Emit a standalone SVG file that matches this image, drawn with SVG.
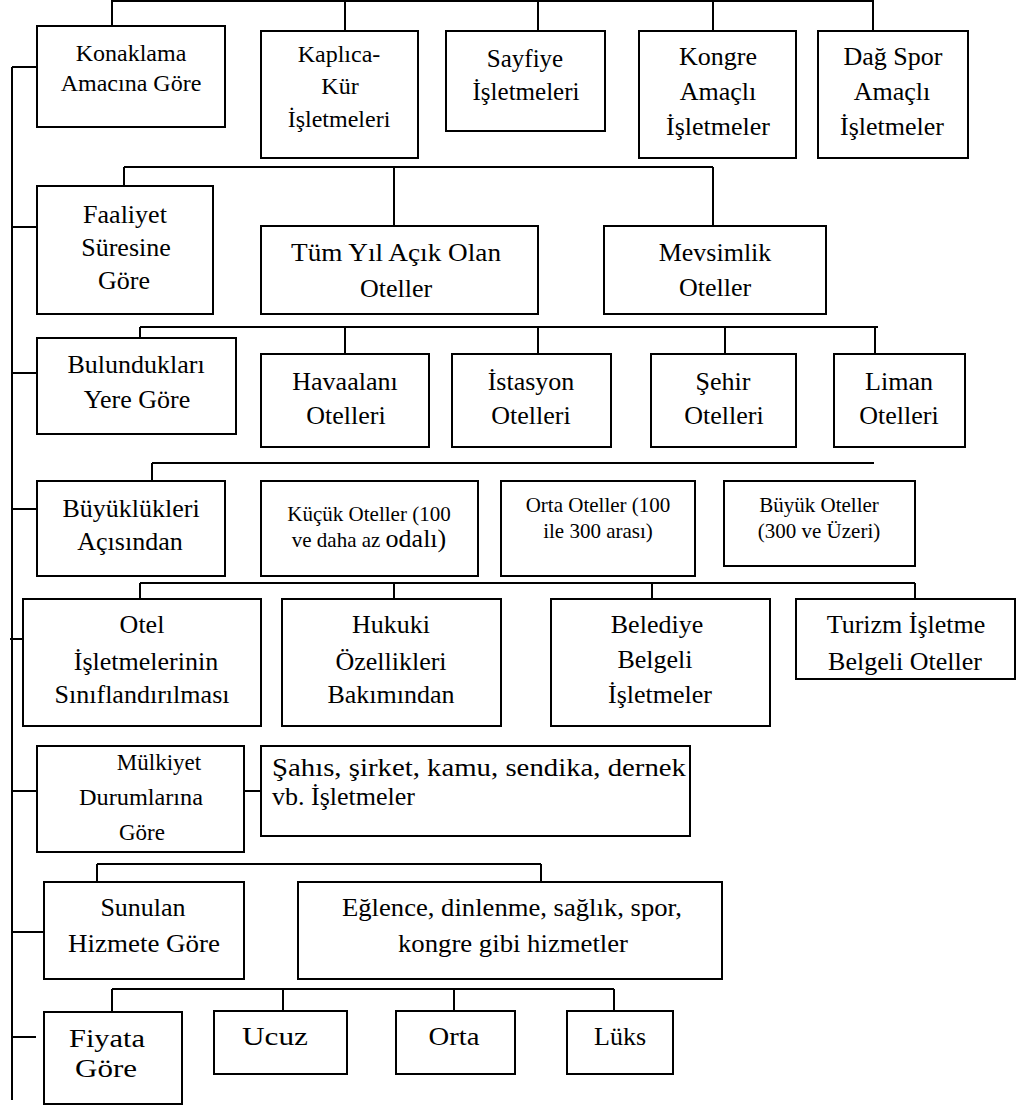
<svg xmlns="http://www.w3.org/2000/svg" width="1019" height="1106" viewBox="0 0 1019 1106">
<style>
.b{fill:#fff;stroke:#000;stroke-width:2}
.c line{stroke:#000;stroke-width:2}
text{font-family:"Liberation Serif","Times New Roman",serif;font-size:26px;fill:#000;text-anchor:middle}
.f24{font-size:24px}
.f25{font-size:25px}
.f23{font-size:23px}
.f21{font-size:21px}
.l{text-anchor:start}
</style>
<rect width="1019" height="1106" fill="#fff"/>
<g class="c" id="connectors">
<line x1="112" y1="1" x2="873" y2="1"/>
<line x1="112" y1="0" x2="112" y2="35"/>
<line x1="345" y1="0" x2="345" y2="35"/>
<line x1="538" y1="0" x2="538" y2="34"/>
<line x1="713" y1="0" x2="713" y2="34"/>
<line x1="873" y1="0" x2="873" y2="34"/>
<line x1="12" y1="67" x2="12" y2="1100"/>
<line x1="12" y1="67" x2="37" y2="67"/>
<line x1="12" y1="227" x2="37" y2="227"/>
<line x1="12" y1="373" x2="37" y2="373"/>
<line x1="12" y1="509" x2="37" y2="509"/>
<line x1="10" y1="639" x2="23" y2="639"/>
<line x1="12" y1="791" x2="37" y2="791"/>
<line x1="12" y1="932" x2="44" y2="932"/>
<line x1="12" y1="1037" x2="36" y2="1037"/>
<line x1="124" y1="167" x2="713" y2="167"/>
<line x1="124" y1="167" x2="124" y2="192"/>
<line x1="394" y1="167" x2="394" y2="231"/>
<line x1="713" y1="167" x2="713" y2="232"/>
<line x1="140" y1="327" x2="878" y2="327"/>
<line x1="140" y1="327" x2="140" y2="343"/>
<line x1="345" y1="327" x2="345" y2="360"/>
<line x1="538" y1="327" x2="538" y2="360"/>
<line x1="725" y1="327" x2="725" y2="360"/>
<line x1="875" y1="327" x2="875" y2="360"/>
<line x1="152" y1="463" x2="874" y2="463"/>
<line x1="152" y1="463" x2="152" y2="480"/>
<line x1="140" y1="583" x2="915" y2="583"/>
<line x1="140" y1="583" x2="140" y2="599"/>
<line x1="394" y1="583" x2="394" y2="599"/>
<line x1="652" y1="583" x2="652" y2="599"/>
<line x1="915" y1="583" x2="915" y2="599"/>
<line x1="244" y1="791" x2="261" y2="791"/>
<line x1="97" y1="864" x2="541" y2="864"/>
<line x1="97" y1="864" x2="97" y2="882"/>
<line x1="541" y1="864" x2="541" y2="887"/>
<line x1="112" y1="989" x2="614" y2="989"/>
<line x1="112" y1="989" x2="112" y2="1012"/>
<line x1="283" y1="989" x2="283" y2="1011"/>
<line x1="454" y1="989" x2="454" y2="1011"/>
<line x1="614" y1="989" x2="614" y2="1011"/>
</g>
<g id="n1"><rect class="b" x="37" y="26" width="188" height="101"/>
<text class="f24" x="131" y="61">Konaklama</text>
<text class="f24" x="131" y="91">Amacına Göre</text></g>
<g id="n2"><rect class="b" x="261" y="31" width="157" height="127"/>
<text class="f24" x="339" y="62">Kaplıca-</text>
<text class="f24" x="340" y="94">Kür</text>
<text class="f24" x="339" y="127">İşletmeleri</text></g>
<g id="n3"><rect class="b" x="446" y="31" width="159" height="100"/>
<text class="f25" x="525" y="67">Sayfiye</text>
<text class="f25" x="526" y="100">İşletmeleri</text></g>
<g id="n4"><rect class="b" x="639" y="31" width="157" height="127"/>
<text x="718" y="65">Kongre</text>
<text x="718" y="100">Amaçlı</text>
<text x="718" y="135">İşletmeler</text></g>
<g id="n5"><rect class="b" x="818" y="31" width="150" height="127"/>
<text x="893" y="65">Dağ Spor</text>
<text x="892" y="100">Amaçlı</text>
<text x="892" y="135">İşletmeler</text></g>
<g id="n6"><rect class="b" x="37" y="186" width="176" height="128"/>
<text x="125" y="223">Faaliyet</text>
<text x="126" y="256">Süresine</text>
<text x="124" y="289">Göre</text></g>
<g id="n7"><rect class="b" x="261" y="226" width="277" height="88"/>
<text x="396" y="261" textLength="210" lengthAdjust="spacingAndGlyphs">Tüm Yıl Açık Olan</text>
<text x="396" y="297">Oteller</text></g>
<g id="n8"><rect class="b" x="604" y="226" width="222" height="88"/>
<text x="715" y="261">Mevsimlik</text>
<text x="715" y="296">Oteller</text></g>
<g id="n9"><rect class="b" x="37" y="338" width="199" height="96"/>
<text x="136" y="373">Bulundukları</text>
<text x="137" y="408">Yere Göre</text></g>
<g id="n10"><rect class="b" x="261" y="354" width="168" height="93"/>
<text x="345" y="390">Havaalanı</text>
<text x="346" y="424">Otelleri</text></g>
<g id="n11"><rect class="b" x="452" y="354" width="159" height="93"/>
<text x="531" y="390">İstasyon</text>
<text x="531" y="424">Otelleri</text></g>
<g id="n12"><rect class="b" x="651" y="354" width="145" height="93"/>
<text x="723" y="390">Şehir</text>
<text x="724" y="424">Otelleri</text></g>
<g id="n13"><rect class="b" x="834" y="354" width="131" height="93"/>
<text x="899" y="390">Liman</text>
<text x="899" y="424">Otelleri</text></g>
<g id="n14"><rect class="b" x="37" y="481" width="188" height="95"/>
<text x="131" y="517">Büyüklükleri</text>
<text x="130" y="550">Açısından</text></g>
<g id="n15"><rect class="b" x="261" y="481" width="217" height="95"/>
<text class="f21" x="369" y="521">Küçük Oteller (100</text>
<text class="f21" x="369" y="547"><tspan>ve daha az </tspan><tspan style="font-size:26px">odalı)</tspan></text></g>
<g id="n16"><rect class="b" x="501" y="481" width="194" height="95"/>
<text class="f21" x="598" y="512">Orta Oteller (100</text>
<text class="f21" x="598" y="538">ile 300 arası)</text></g>
<g id="n17"><rect class="b" x="724" y="481" width="191" height="85"/>
<text class="f21" x="819" y="512">Büyük Oteller</text>
<text class="f21" x="819" y="538">(300 ve Üzeri)</text></g>
<g id="n18"><rect class="b" x="23" y="599" width="238" height="127"/>
<text x="142" y="633">Otel</text>
<text x="146" y="670">İşletmelerinin</text>
<text x="142" y="703" textLength="175" lengthAdjust="spacingAndGlyphs">Sınıflandırılması</text></g>
<g id="n19"><rect class="b" x="282" y="599" width="219" height="127"/>
<text x="391" y="633">Hukuki</text>
<text x="391" y="670">Özellikleri</text>
<text x="391" y="703">Bakımından</text></g>
<g id="n20"><rect class="b" x="551" y="599" width="219" height="127"/>
<text x="657" y="633">Belediye</text>
<text x="655" y="668">Belgeli</text>
<text x="660" y="703">İşletmeler</text></g>
<g id="n21"><rect class="b" x="796" y="599" width="219" height="80"/>
<text x="906" y="633">Turizm İşletme</text>
<text x="905" y="670">Belgeli Oteller</text></g>
<g id="n22"><rect class="b" x="37" y="746" width="207" height="106"/>
<text class="f23" x="159" y="770">Mülkiyet</text>
<text class="f23" x="141" y="805" textLength="124" lengthAdjust="spacingAndGlyphs">Durumlarına</text>
<text class="f23" x="142" y="840">Göre</text></g>
<g id="n23"><rect class="b" x="261" y="746" width="429" height="90"/>
<text class="l" x="272" y="776" textLength="414" lengthAdjust="spacingAndGlyphs">Şahıs, şirket, kamu, sendika, dernek</text>
<text class="l" x="272" y="805">vb. İşletmeler</text></g>
<g id="n24"><rect class="b" x="44" y="882" width="200" height="97"/>
<text x="143" y="916">Sunulan</text>
<text x="144" y="952" textLength="152" lengthAdjust="spacingAndGlyphs">Hizmete Göre</text></g>
<g id="n25"><rect class="b" x="298" y="882" width="424" height="97"/>
<text x="512" y="916" textLength="340" lengthAdjust="spacingAndGlyphs">Eğlence, dinlenme, sağlık, spor,</text>
<text x="513" y="952" textLength="230" lengthAdjust="spacingAndGlyphs">kongre gibi hizmetler</text></g>
<g id="n26"><rect class="b" x="44" y="1012" width="138" height="92"/>
<text x="107" y="1047" textLength="76" lengthAdjust="spacingAndGlyphs">Fiyata</text>
<text x="106" y="1077" textLength="62" lengthAdjust="spacingAndGlyphs">Göre</text></g>
<g id="n27"><rect class="b" x="214" y="1011" width="133" height="63"/>
<text x="275" y="1045" textLength="66" lengthAdjust="spacingAndGlyphs">Ucuz</text></g>
<g id="n28"><rect class="b" x="396" y="1011" width="119" height="63"/>
<text x="454" y="1045" textLength="51" lengthAdjust="spacingAndGlyphs">Orta</text></g>
<g id="n29"><rect class="b" x="567" y="1011" width="106" height="63"/>
<text x="620" y="1045">Lüks</text></g>
</svg>
